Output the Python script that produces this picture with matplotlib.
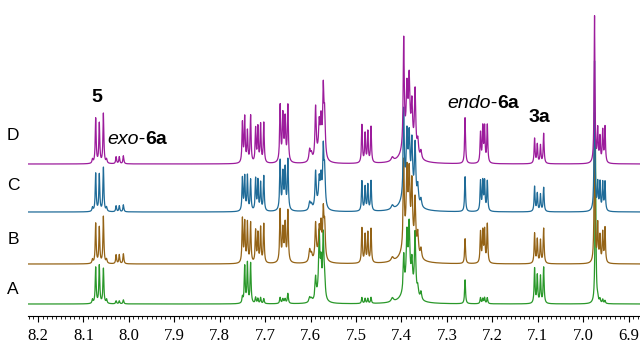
import matplotlib
matplotlib.use('Agg')
import matplotlib.pyplot as plt
from matplotlib.ticker import MultipleLocator
import numpy as np

# ── peak list (ppm, half-width) and heights per trace (px above baseline) ──
shifts = [8.080, 8.073, 8.065, 8.056, 8.049,
          8.028, 8.021, 8.012,
          7.750, 7.745, 7.739, 7.732, 7.721, 7.716, 7.710, 7.703,
          7.667, 7.661, 7.656, 7.650, 7.659,
          7.602, 7.598,
          7.589, 7.581, 7.577, 7.572, 7.569, 7.580,
          7.487, 7.480, 7.474, 7.467,
          7.420,
          7.395, 7.388, 7.383, 7.377, 7.370, 7.364, 7.357, 7.385,
          7.260,
          7.226, 7.221, 7.217, 7.211,
          7.107, 7.101, 7.094, 7.087,
          6.975, 6.973,
          6.968, 6.963, 6.957, 6.952]
widths = [0.0013, 0.0012, 0.0012, 0.0012, 0.0013,
          0.0012, 0.0012, 0.0012,
          0.0012, 0.0012, 0.0012, 0.0012, 0.0012, 0.0012, 0.0012, 0.0012,
          0.0013, 0.0013, 0.0013, 0.0013, 0.0050,
          0.0020, 0.0020,
          0.0016, 0.0016, 0.0016, 0.0016, 0.0016, 0.0070,
          0.0012, 0.0012, 0.0012, 0.0012,
          0.0030,
          0.0014, 0.0017, 0.0017, 0.0017, 0.0017, 0.0018, 0.0018, 0.0110,
          0.0012,
          0.0012, 0.0012, 0.0012, 0.0012,
          0.0012, 0.0012, 0.0012, 0.0012,
          0.0011, 0.0011,
          0.0012, 0.0012, 0.0012, 0.0012]
h_D = [4, 45, 40, 50, 4,
       7, 7, 8,
       40, 45, 31, 47, 34, 35, 38, 40,
       56, 43, 40, 56, 5,
       12, 7,
       52, 28, 32, 66, 40, 10,
       38, 29, 31, 36,
       4,
       108, 48, 56, 40, 62, 15, 8, 28,
       46,
       30, 35, 35, 38,
       25, 19, 18, 30,
       147, 0,
       33, 25, 32, 36]
h_C = [4, 38, 37, 44, 4,
       6, 6, 7,
       33, 34, 35, 31, 32, 30, 28, 35,
       49, 33, 38, 50, 5,
       8, 5,
       36, 22, 24, 56, 34, 9,
       30, 24, 26, 30,
       4,
       85, 50, 46, 50, 56, 18, 8, 28,
       35,
       30, 29, 29, 30,
       25, 18, 17, 24,
       150, 0,
       27, 28, 28, 29]
h_B = [4, 40, 36, 47, 4,
       9, 9, 10,
       44, 40, 40, 40, 32, 29, 35, 39,
       52, 29, 35, 51, 5,
       12, 7,
       36, 23, 28, 45, 32, 10,
       35, 28, 30, 34,
       4,
       85, 64, 60, 60, 52, 22, 10, 28,
       25,
       31, 31, 32, 39,
       30, 24, 23, 35,
       150, 0,
       38, 26, 30, 35]
h_A = [4, 36, 38, 35, 4,
       3, 3, 4,
       6, 37, 40, 40, 6, 5, 6, 5,
       6, 4, 4, 10, 1,
       5, 3,
       22, 60, 30, 62, 16, 8,
       6, 5, 5, 6,
       4,
       35, 48, 55, 26, 62, 10, 8, 22,
       24,
       6, 5, 6, 6,
       35, 28, 27, 36,
       0, 165,
       5, 4, 4, 3]

traces = ['A', 'B', 'C', 'D']
baselines = [12, 52, 104, 152]
colors = ['#2a982a', '#946316', '#1f6b98', '#9c1c9c']
label_y = [26, 76, 130, 180]

ppm = np.linspace(6.87, 8.23, 9000)


def spectrum(heights):
    y = np.zeros_like(ppm)
    for x0, w, h in zip(shifts, widths, heights):
        if h:
            y += h / (1 + ((ppm - x0) / w) ** 2)
    return y


fig = plt.figure(figsize=(6.4, 3.43), dpi=100)
ax = fig.add_axes([28 / 640, 27 / 343, 612 / 640, 316 / 343])

for i, hh in enumerate([h_A, h_B, h_C, h_D]):
    ax.plot(ppm, baselines[i] + spectrum(hh), color=colors[i], lw=0.9, zorder=2 + i)
    ax.text(8.255, label_y[i], traces[i], ha='center', va='center',
            fontsize=12.5, family='Liberation Sans', clip_on=False)

ax.set_xlim(8.222, 6.875)
ax.set_ylim(0, 316)
for s in ['top', 'left', 'right']:
    ax.spines[s].set_visible(False)
ax.spines['bottom'].set_linewidth(0.8)
ax.set_yticks([])
ax.xaxis.set_major_locator(MultipleLocator(0.1))
ax.xaxis.set_minor_locator(MultipleLocator(0.01))
ax.tick_params(axis='x', which='major', direction='out', length=4, width=0.8,
               pad=5, labelsize=12)
ax.tick_params(axis='x', which='minor', direction='out', length=2, width=0.6)
ax.set_xticks(np.round(np.arange(6.9, 8.21, 0.1), 1))
ax.set_xticklabels([f'{v:.1f}' for v in np.arange(6.9, 8.21, 0.1)],
                   family='Liberation Serif')

# ── compound labels ──
sans = dict(family='Liberation Sans', fontsize=14)
ax.text(8.070, 218, '5', ha='center', va='center', fontweight='bold', **sans)
t = ax.text(8.047, 176, 'exo-', ha='left', va='center', style='italic', **sans)
ax.annotate('6a', xy=(1, 0), xycoords=t, va='bottom', ha='left',
            fontweight='bold', **sans)
t = ax.text(7.299, 213, 'endo-', ha='left', va='center', style='italic', **sans)
ax.annotate('6a', xy=(1, 0), xycoords=t, va='bottom', ha='left',
            fontweight='bold', **sans)
ax.text(7.096, 198, '3a', ha='center', va='center', fontweight='bold', **sans)

plt.savefig('out.png', dpi=100)
